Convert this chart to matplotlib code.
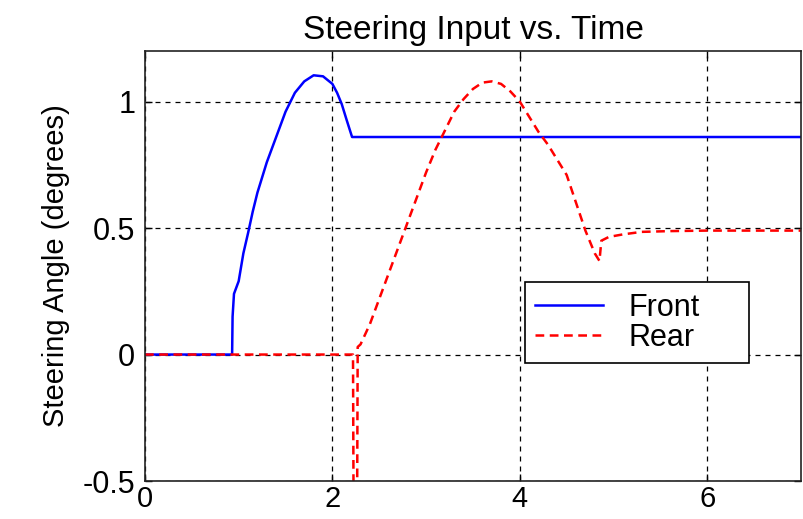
import matplotlib
matplotlib.use("Agg")
import matplotlib.pyplot as plt

plt.rcParams['font.family'] = ['Liberation Sans', 'DejaVu Sans']
plt.rcParams['axes.unicode_minus'] = False

# front steering angle (deg) vs time (s)
front_t = [0, 0.93, 0.935, 0.95, 1.0, 1.05, 1.1, 1.15, 1.2, 1.3, 1.4, 1.5,
           1.6, 1.7, 1.8, 1.9, 2.0, 2.05, 2.1, 2.15, 2.21, 7.0]
front_v = [0, 0, 0.15, 0.24, 0.29, 0.40, 0.48, 0.565, 0.64, 0.76, 0.86,
           0.96, 1.035, 1.08, 1.104, 1.10, 1.07, 1.035, 0.99, 0.93, 0.86, 0.86]

# rear steering angle
rear_t = [0, 2.22, 2.23, 2.26, 2.27, 2.3, 2.4, 2.5, 2.6, 2.7, 2.8, 2.9, 3.0,
          3.1, 3.2, 3.3, 3.4, 3.5, 3.6, 3.7, 3.8, 3.9, 4.0, 4.1, 4.2, 4.3,
          4.4, 4.5, 4.6, 4.7, 4.8, 4.85, 4.87, 4.95, 5.1, 5.3, 5.6, 6.0, 7.0]
rear_v = [0, 0, -1.0, -1.0, 0.03, 0.04, 0.12, 0.22, 0.32, 0.42, 0.52, 0.62,
          0.72, 0.81, 0.885, 0.96, 1.01, 1.05, 1.075, 1.08, 1.07, 1.04, 1.0,
          0.94, 0.88, 0.83, 0.77, 0.71, 0.60, 0.49, 0.40, 0.37, 0.45, 0.465,
          0.475, 0.485, 0.488, 0.49, 0.49]

x_ticks = [0, 2, 4, 6]
y_ticks = [-0.5, 0, 0.5, 1]
y_tick_labels = ['-0.5', '0', '0.5', '1']

fig = plt.figure(figsize=(8.04, 5.19), dpi=100)
ax = fig.add_axes([0.1803, 0.0732, 0.8159, 0.8285])

ax.plot(front_t, front_v, color='#0000ff', lw=1.8, label='Front')
ax.plot(rear_t, rear_v, color='#ff0000', lw=1.8, dashes=(3.5, 2.2), label='Rear')

ax.set_xlim(0, 7)
ax.set_ylim(-0.5, 1.2)
ax.set_xticks(x_ticks)
ax.set_yticks(y_ticks)
ax.set_yticklabels(y_tick_labels)
ax.tick_params(direction='in', length=5, top=True, right=True, width=1)
ax.tick_params(axis='x', pad=3, labelsize=21)
ax.tick_params(axis='y', pad=7, labelsize=22)
ax.grid(True, color='black', lw=0.9, linestyle=(0, (4, 4)))
ax.set_axisbelow(True)
for s in ax.spines.values():
    s.set_linewidth(1.2)
    s.set_color('#222222')

ax.set_title('Steering Input vs. Time', fontsize=24, pad=9)
ax.set_ylabel('Steering Angle (degrees)', fontsize=21, labelpad=9)

leg = ax.legend(loc='upper left', bbox_to_anchor=(0.579, 0.28, 0.342, 0.183),
                mode='expand', borderaxespad=0, fontsize=22, fancybox=False,
                edgecolor='black', framealpha=1, handlelength=2.2,
                handletextpad=0.85, borderpad=0.35, labelspacing=0.0)
leg.get_frame().set_linewidth(1.2)

fig.savefig('out.png', dpi=100)
